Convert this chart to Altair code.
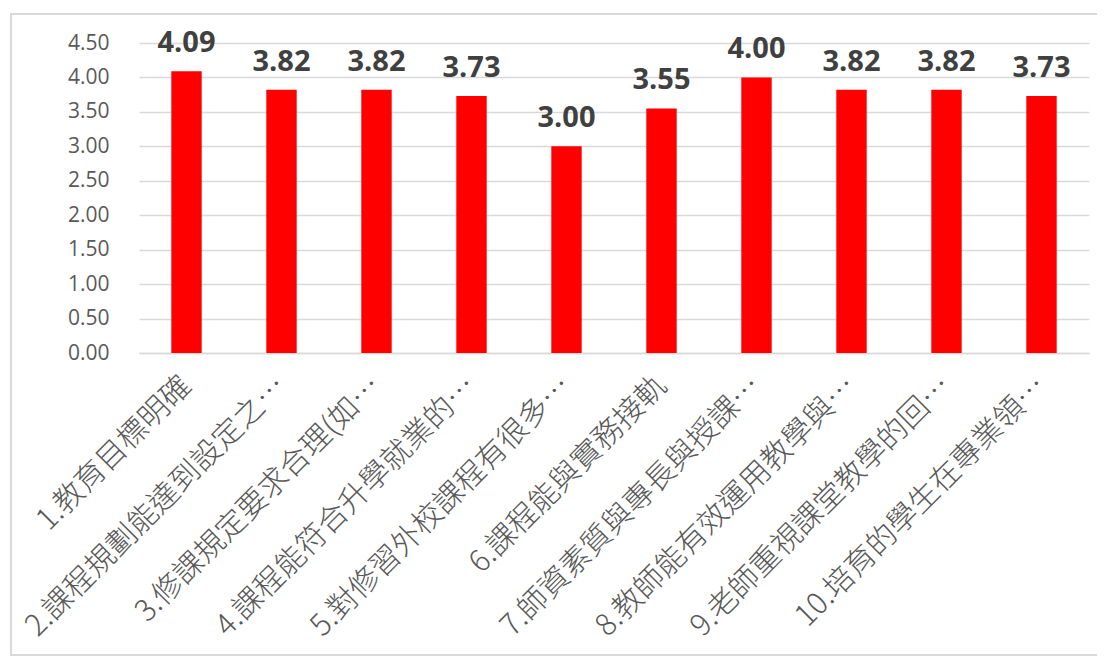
import altair as alt
import pandas as pd

categories = [
    "1.教育目標明確",
    "2.課程規劃能達到設定之…",
    "3.修課規定要求合理(如…",
    "4.課程能符合升學就業的…",
    "5.對修習外校課程有很多…",
    "6.課程能與實務接軌",
    "7.師資素質與專長與授課…",
    "8.教師能有效運用教學與…",
    "9.老師重視課堂教學的回…",
    "10.培育的學生在專業領…",
]
values = [4.09, 3.82, 3.82, 3.73, 3.00, 3.55, 4.00, 3.82, 3.82, 3.73]
y_ticks = [0, 0.5, 1, 1.5, 2, 2.5, 3, 3.5, 4, 4.5]

df = pd.DataFrame({"cat": categories, "val": values})
df["lbl"] = [f"{v:.2f}" for v in values]

x = alt.X("cat:N", sort=categories, title=None,
          scale=alt.Scale(paddingInner=0.68, paddingOuter=0.34),
          axis=alt.Axis(labelAngle=-45, labelFontSize=30, labelColor="#595959",
                        labelFont="Noto Sans CJK TC", labelFontWeight=300,
                        labelBaseline="middle", labelAlign="right",
                        labelOffset=0, labelPadding=28,
                        ticks=False, domain=True, domainColor="#d9d9d9",
                        domainWidth=1.5, labelLimit=0, grid=False))
y = alt.Y("val:Q", title=None,
          scale=alt.Scale(domain=[0, 4.5], nice=False),
          axis=alt.Axis(values=y_ticks, format=".2f", labelFontSize=21,
                        labelColor="#595959", labelFont="Open Sans",
                        ticks=False, domain=False, gridColor="#d9d9d9",
                        gridWidth=1.5, labelPadding=30))

bars = alt.Chart(df).mark_bar(color="#ff0000").encode(x=x, y=y)
text = alt.Chart(df).mark_text(baseline="alphabetic", dy=-19, fontSize=29,
                               fontWeight="bold", color="#404040",
                               font="Open Sans").encode(x=x, y=y, text="lbl:N")
frame = alt.Chart(df).mark_rect(fill=None, stroke="#d9d9d9", strokeWidth=2).encode(
    x=alt.value(-128), x2=alt.value(961), y=alt.value(-29), y2=alt.value(612))

chart = alt.layer(bars, text, frame).properties(
    width=950, height=310,
    autosize=alt.AutoSizeParams(type="none"),
    padding={"left": 131, "top": 35, "right": 8, "bottom": 305},
).configure_view(stroke=None)

chart.save("out.html", embed_options={"renderer": "svg", "actions": False})
